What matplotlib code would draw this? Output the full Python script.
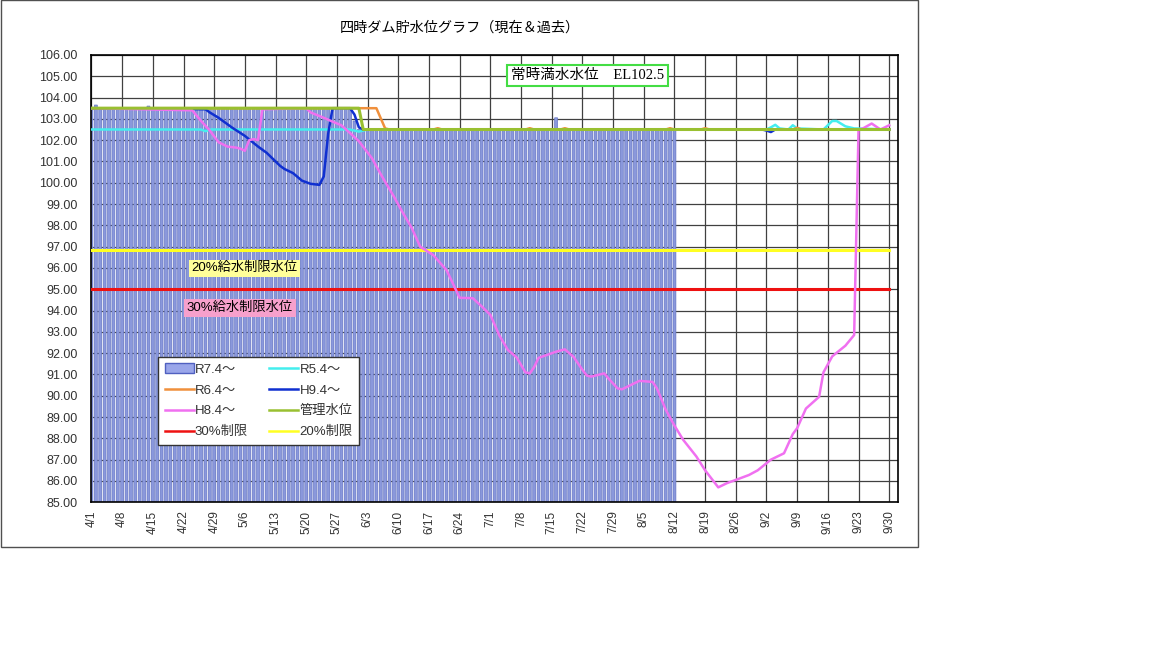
import numpy as np
import pandas as pd
import matplotlib
matplotlib.use("Agg")
import matplotlib.pyplot as plt
from matplotlib.patches import Rectangle, Patch
from matplotlib.lines import Line2D

plt.rcParams['font.family'] = ['Liberation Sans', 'Noto Sans CJK JP']

YEAR = 2025

# R7.4～ : daily bars from 4/1 to 8/12
bar_start = "4/1"
r7_vals = [
    103.5, 103.65, 103.5, 103.5, 103.5, 103.5, 103.5, 103.5, 103.5, 103.5,
    103.5, 103.5, 103.5, 103.6, 103.5, 103.5, 103.5, 103.5, 103.5, 103.5,
    103.5, 103.5, 103.5, 103.5, 103.5, 103.5, 103.5, 103.5, 103.5, 103.5,
    103.5, 103.5, 103.5, 103.5, 103.5, 103.5, 103.5, 103.5, 103.5, 103.5,
    103.5, 103.5, 103.5, 103.5, 103.5, 103.5, 103.5, 103.5, 103.5, 103.5,
    103.5, 103.5, 103.5, 103.5, 103.5, 103.5, 103.5, 103.5, 103.5, 103.5,
    102.9, 102.5, 102.5, 102.5, 102.5, 102.5, 102.5, 102.5, 102.5, 102.5,
    102.5, 102.5, 102.5, 102.5, 102.5, 102.5, 102.5, 102.5, 102.5, 102.5,
    102.5, 102.5, 102.5, 102.5, 102.5, 102.5, 102.5, 102.5, 102.5, 102.5,
    102.5, 102.5, 102.5, 102.5, 102.5, 102.5, 102.5, 102.5, 102.5, 102.5,
    102.5, 102.5, 102.5, 102.5, 102.5, 102.5, 103.05, 102.5, 102.5, 102.5,
    102.5, 102.5, 102.5, 102.5, 102.5, 102.5, 102.5, 102.5, 102.5, 102.5,
    102.5, 102.5, 102.5, 102.5, 102.5, 102.5, 102.5, 102.5, 102.5, 102.5,
    102.5, 102.5, 102.5, 102.5,
]

# R5.4～
r5_dates = ["4/1", "4/26", "4/27", "4/28", "5/30", "6/1", "6/2", "6/3", "9/2", "9/3",
            "9/4", "9/5", "9/7", "9/8", "9/9", "9/15", "9/17", "9/18", "9/20", "9/22", "9/30"]
r5_vals = [102.5, 102.5, 102.42, 102.5, 102.5, 102.4, 102.45, 102.5, 102.5, 102.6,
           102.72, 102.55, 102.5, 102.7, 102.55, 102.5, 102.9, 102.9, 102.65, 102.55, 102.5]

# R6.4～
r6_dates = ["4/1", "6/5", "6/7", "6/8", "6/18", "6/19", "6/20", "7/9", "7/10", "7/11",
            "7/17", "7/18", "7/19", "8/10", "8/11", "8/12", "8/18", "8/19", "8/20",
            "9/8", "9/9", "9/10", "9/30"]
r6_vals = [103.5, 103.5, 102.55, 102.5, 102.5, 102.56, 102.5, 102.5, 102.56, 102.5,
           102.5, 102.56, 102.5, 102.5, 102.56, 102.5, 102.5, 102.56, 102.5,
           102.5, 102.58, 102.5, 102.5]

# H9.4～
h9_dates = ["4/1", "4/27", "4/28", "4/30", "5/3", "5/6", "5/9", "5/11", "5/14", "5/15",
            "5/17", "5/19", "5/21", "5/23", "5/24", "5/25", "5/26", "5/30", "5/31",
            "6/1", "6/2", "9/1", "9/2", "9/3", "9/4", "9/30"]
h9_vals = [103.5, 103.45, 103.3, 103.05, 102.6, 102.2, 101.7, 101.4, 100.8, 100.65,
           100.45, 100.1, 99.95, 99.9, 100.3, 102.3, 103.5, 103.5, 103.2,
           102.6, 102.5, 102.5, 102.45, 102.38, 102.5, 102.5]

# H8.4～
h8_dates = ["4/1", "4/24", "4/26", "4/28", "4/30", "5/2", "5/4", "5/5", "5/6", "5/7",
            "5/8", "5/9", "5/10", "5/20", "5/21", "5/24", "5/26", "5/28", "5/30", "6/1",
            "6/4", "6/6", "6/9", "6/11", "6/13", "6/15", "6/18", "6/21", "6/24", "6/27",
            "6/29", "7/1", "7/3", "7/5", "7/7", "7/9", "7/10", "7/11", "7/12", "7/14",
            "7/16", "7/18", "7/20", "7/22", "7/23", "7/24", "7/27", "7/28", "7/30", "7/31",
            "8/2", "8/4", "8/7", "8/8", "8/10", "8/12", "8/14", "8/17", "8/19", "8/22",
            "8/24", "8/26", "8/29", "8/31", "9/3", "9/6", "9/8", "9/9", "9/11", "9/14",
            "9/15", "9/17", "9/20", "9/22", "9/23", "9/24", "9/26", "9/28", "9/30"]
h8_vals = [103.5, 103.4, 102.9, 102.45, 101.9, 101.7, 101.65, 101.6, 101.5, 102.0,
           102.05, 102.0, 103.45, 103.5, 103.3, 103.05, 102.87, 102.7, 102.33, 101.95,
           101.15, 100.4, 99.35, 98.6, 97.9, 97.0, 96.6, 95.9, 94.6, 94.58,
           94.2, 93.8, 92.85, 92.15, 91.8, 91.1, 91.05, 91.35, 91.78, 91.92,
           92.07, 92.18, 91.82, 91.22, 90.95, 90.9, 91.05, 90.8, 90.35, 90.3,
           90.5, 90.7, 90.65, 90.35, 89.35, 88.6, 87.93, 87.15, 86.5, 85.7,
           85.9, 86.05, 86.28, 86.5, 87.0, 87.3, 88.2, 88.48, 89.4, 89.95,
           91.1, 91.85, 92.35, 92.85, 102.5, 102.55, 102.78, 102.5, 102.7]

# 管理水位
kanri_dates = ["4/1", "6/1", "6/2", "9/30"]
kanri_vals = [103.5, 103.5, 102.5, 102.5]

# 制限水位
lim30_dates = ["4/1", "9/30"]
lim30_vals = [95.0, 95.0]
lim20_dates = ["4/1", "9/30"]
lim20_vals = [96.85, 96.85]

y_ticks = np.arange(85, 107, 1)


def to_dates(lst):
    return pd.to_datetime([f"{YEAR}/{d}" for d in lst], format="%Y/%m/%d")


fig = plt.figure(figsize=(11.52, 6.48), dpi=100)
fig.patches.append(Rectangle((0.0005, 0.1565), 0.796, 0.843, transform=fig.transFigure,
                             fill=False, ec='#505050', lw=1.0))
ax = fig.add_axes([0.0794, 0.2249, 0.7001, 0.6903])

bar_dates = pd.date_range(f"{YEAR}-04-01", periods=len(r7_vals), freq="D")
bars = ax.bar(bar_dates, np.array(r7_vals) - 85, bottom=85, width=0.66,
              color='#8a98dc', edgecolor='#6676c4', linewidth=0.5, zorder=2)
for b in bars:
    b.set_snap(False)

ax.plot(to_dates(lim30_dates), lim30_vals, color='#ee1111', lw=2.2, zorder=3)
ax.plot(to_dates(lim20_dates), lim20_vals, color='#ffff22', lw=2.2, zorder=3)
ax.plot(to_dates(r5_dates), r5_vals, color='#44eeee', lw=1.8, zorder=3)
ax.plot(to_dates(r6_dates), r6_vals, color='#f0903c', lw=1.8, zorder=3)
ax.plot(to_dates(h9_dates), h9_vals, color='#1030d0', lw=1.8, zorder=3)
ax.plot(to_dates(h8_dates), h8_vals, color='#f070f0', lw=1.8, zorder=3)
ax.plot(to_dates(kanri_dates), kanri_vals, color='#99c031', lw=2.2, zorder=3)

ax.set_ylim(85, 106)
ax.set_yticks(y_ticks)
ax.set_yticklabels([f"{v:.2f}" for v in y_ticks])
ax.set_xlim(pd.Timestamp(f"{YEAR}-04-01"), pd.Timestamp(f"{YEAR}-10-02"))
x_ticks = pd.date_range(f"{YEAR}-04-01", f"{YEAR}-09-30", freq="7D")
ax.set_xticks(x_ticks)
ax.set_xticklabels([f"{d.month}/{d.day}" for d in x_ticks], rotation=90)
ax.tick_params(axis='y', length=0, pad=10, labelsize=9, labelcolor='#333333')
ax.tick_params(axis='x', length=0, pad=6, labelsize=8.5, labelcolor='#333333')

ax.set_axisbelow(True)
ax.grid(True, color='#404040', lw=0.9)
for s in ax.spines.values():
    s.set_color('black')
    s.set_linewidth(1.2)

fig.text(0.399, 0.957, "四時ダム貯水位グラフ（現在＆過去）", ha='center', va='center', fontsize=10.2)

ax.text(0.615, 0.954, "常時満水水位　EL102.5", transform=ax.transAxes, ha='center', va='center',
        family=['Liberation Serif', 'Noto Sans CJK JP'], fontsize=10.5, zorder=5,
        bbox=dict(boxstyle='square,pad=0.3', fc='white', ec='#44dd44', lw=1.5))
ax.text(0.190, 0.523, "20%給水制限水位", transform=ax.transAxes, ha='center', va='center',
        fontsize=9.5, zorder=5, bbox=dict(boxstyle='square,pad=0.2', fc='#ffff99', ec='none'))
ax.text(0.184, 0.434, "30%給水制限水位", transform=ax.transAxes, ha='center', va='center',
        fontsize=9.5, zorder=5, bbox=dict(boxstyle='square,pad=0.2', fc='#f7a0cc', ec='none'))

handles = [
    Patch(facecolor='#9aa6ea', edgecolor='#5060c0', label='R7.4～'),
    Line2D([], [], color='#f0903c', lw=1.8, label='R6.4～'),
    Line2D([], [], color='#f070f0', lw=1.8, label='H8.4～'),
    Line2D([], [], color='#ee1111', lw=1.8, label='30%制限'),
    Line2D([], [], color='#44eeee', lw=1.8, label='R5.4～'),
    Line2D([], [], color='#1030d0', lw=1.8, label='H9.4～'),
    Line2D([], [], color='#99c031', lw=1.8, label='管理水位'),
    Line2D([], [], color='#ffff22', lw=1.8, label='20%制限'),
]
leg = ax.legend(handles=handles, ncol=2, loc='upper left', bbox_to_anchor=(0.0825, 0.325),
                borderaxespad=0, fontsize=9.5, frameon=True, fancybox=False,
                edgecolor='#333333', framealpha=1, handlelength=2.2, handletextpad=0.1,
                columnspacing=1.6, labelspacing=0.65, borderpad=0.5)
leg.get_frame().set_linewidth(1.0)
for t in leg.get_texts():
    t.set_color('#333333')
leg.set_zorder(6)

fig.savefig("out.png", dpi=100)
